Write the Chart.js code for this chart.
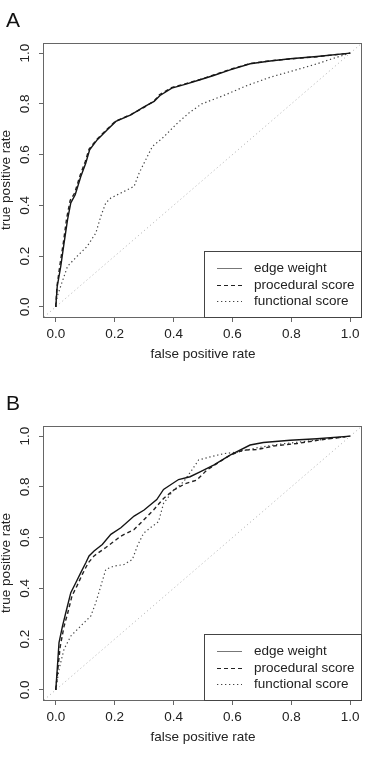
<!DOCTYPE html>
<html>
<head>
<meta charset="utf-8">
<script src="https://cdn.jsdelivr.net/npm/chart.js@4.4.1/dist/chart.umd.min.js"></script>
<style>
  html, body { margin: 0; padding: 0; background: #fff; }
  .panel { position: relative; width: 384px; height: 383px; }
  .panel canvas { display: block; }
  .tag { position: absolute; left: 6px; top: 9px; font: 21px/1 "Liberation Sans", Arial, sans-serif; color: #111; }
</style>
</head>
<body>
<div class="panel"><canvas id="roc-a" width="384" height="383"></canvas><div class="tag">A</div></div>
<div class="panel"><canvas id="roc-b" width="384" height="383"></canvas><div class="tag">B</div></div>
<script>
// series labels + axis ticks
const seriesLabels = ['edge weight', 'procedural score', 'functional score'];
const tickValues = [0, 0.2, 0.4, 0.6, 0.8, 1.0];
const diagX = [-0.04, 1.04];
const diagY = [-0.04, 1.04];

// panel A
const aEdgeFpr = [0, .005, .017, .028, .04, .051, .066, .085, .102, .115, .141, .175, .204, .255, .298, .334, .354, .394, .445, .49, .536, .592, .66, .728, .796, .887, 1];
const aEdgeTpr = [0, .081, .16, .25, .344, .41, .442, .514, .567, .619, .659, .698, .731, .757, .787, .81, .833, .862, .879, .895, .912, .934, .958, .969, .978, .987, 1];
const aProcFpr = [0, .004, .014, .026, .037, .049, .064, .083, .1, .113, .14, .174, .203, .255, .3, .334, .352, .393, .445, .49, .536, .592, .66, .728, .796, .887, 1];
const aProcTpr = [0, .08, .165, .255, .35, .42, .448, .52, .572, .622, .661, .7, .732, .758, .786, .812, .836, .864, .881, .896, .914, .936, .959, .97, .977, .986, 1];
const aFuncFpr = [0, .005, .04, .073, .107, .136, .153, .17, .187, .232, .266, .283, .30, .328, .366, .411, .456, .496, .57, .649, .728, .807, .887, .955, 1];
const aFuncTpr = [0, .042, .16, .2, .239, .291, .357, .41, .429, .455, .475, .527, .567, .632, .669, .722, .768, .80, .833, .872, .905, .931, .958, .984, 1];

// panel B
const bEdgeFpr = [0, .005, .011, .023, .034, .051, .068, .085, .102, .113, .13, .158, .187, .221, .266, .30, .343, .366, .417, .456, .49, .536, .592, .66, .705, .796, .887, 1];
const bEdgeTpr = [0, .081, .186, .252, .304, .383, .422, .462, .501, .528, .547, .573, .613, .639, .685, .709, .75, .79, .829, .84, .859, .886, .925, .965, .975, .984, .99, 1];
const bProcFpr = [0, .006, .015, .028, .04, .055, .072, .09, .11, .13, .17, .221, .266, .298, .332, .366, .40, .44, .479, .513, .547, .592, .637, .683, .739, .819, .909, 1];
const bProcTpr = [0, .07, .17, .25, .30, .37, .41, .455, .50, .528, .561, .606, .632, .669, .709, .754, .787, .813, .827, .866, .892, .925, .945, .947, .961, .971, .987, 1];
const bFuncFpr = [0, .011, .028, .051, .085, .119, .136, .153, .17, .198, .232, .26, .277, .298, .326, .349, .366, .40, .434, .462, .485, .524, .57, .615, .683, .751, .819, .909, 1];
const bFuncTpr = [0, .081, .16, .212, .252, .291, .344, .409, .475, .488, .494, .514, .567, .617, .643, .663, .735, .787, .82, .866, .906, .918, .931, .937, .954, .967, .976, .987, 1];

const FAMILY = '"Liberation Sans", Arial, Helvetica, sans-serif';
const FONT = { family: FAMILY, size: 13.5 };
const TITLE_FONT = { family: FAMILY, size: 13.5, lineHeight: 1 };

const lineStyles = [
  { color: '#151515', width: 1.4, dash: [] },
  { color: '#222222', width: 1.4, dash: [4, 3] },
  { color: '#444444', width: 1.2, dash: [1.3, 2.7] }
];

function toPoints(xs, ys) {
  return xs.map((x, i) => ({ x: x, y: ys[i] }));
}

// R style box around the plot region + legend in the bottom right corner
const boxLegendPlugin = {
  id: 'boxLegend',
  afterDraw(chart) {
    const ctx = chart.ctx;
    const a = chart.chartArea;
    ctx.save();
    ctx.strokeStyle = '#666';
    ctx.lineWidth = 1;
    ctx.setLineDash([]);
    ctx.strokeRect(Math.round(a.left) - 0.5, Math.round(a.top) + 0.5,
      Math.round(a.right - a.left), Math.round(a.bottom - a.top));

    // legend
    const x0 = Math.round(a.right) - 158;
    const y0 = Math.round(a.bottom) - 66;
    ctx.fillStyle = '#fff';
    ctx.fillRect(x0, y0, 158, 66);
    ctx.strokeStyle = '#444';
    ctx.strokeRect(x0 + 0.5, y0 + 0.5, 157, 66);
    const rows = [17, 34, 50];
    ctx.font = '13.5px ' + FAMILY;
    ctx.textBaseline = 'middle';
    chart.data.datasets.slice(0, 3).forEach((ds, i) => {
      const y = y0 + rows[i] + 0.5;
      ctx.beginPath();
      ctx.strokeStyle = i === 0 ? '#777' : ds.borderColor;
      ctx.lineWidth = 1;
      ctx.setLineDash(ds.borderDash);
      ctx.moveTo(x0 + 13, y);
      ctx.lineTo(x0 + 38, y);
      ctx.stroke();
      ctx.setLineDash([]);
      ctx.fillStyle = '#222';
      ctx.fillText(ds.label, x0 + 50, y);
    });
    ctx.restore();
  }
};

function createRocChart(canvasId, series) {
  const canvas = document.getElementById(canvasId);
  if (!canvas || typeof Chart === 'undefined') return;

  const datasets = series.map((s, i) => ({
    label: seriesLabels[i],
    data: toPoints(s[0], s[1]),
    borderColor: lineStyles[i].color,
    borderWidth: lineStyles[i].width,
    borderDash: lineStyles[i].dash,
    showLine: true,
    fill: false,
    pointRadius: 0,
    tension: 0
  }));
  // diagonal reference line
  datasets.push({
    label: '',
    data: toPoints(diagX, diagY),
    borderColor: '#bdbdbd',
    borderWidth: 1,
    borderDash: [1.3, 2.7],
    showLine: true,
    pointRadius: 0
  });

  new Chart(canvas.getContext('2d'), {
    type: 'scatter',
    data: { datasets: datasets },
    options: {
      responsive: false,
      animation: false,
      events: [],
      layout: { padding: { top: 43, right: 22, bottom: 0, left: 0 } },
      plugins: { legend: { display: false }, tooltip: { enabled: false } },
      scales: {
        x: {
          type: 'linear',
          min: -0.04,
          max: 1.04,
          afterBuildTicks: s => { s.ticks = tickValues.map(v => ({ value: v })); },
          afterFit: s => { s.height = 66; },
          border: { display: false },
          grid: { drawOnChartArea: false, color: '#666', tickLength: 5 },
          ticks: { color: '#222', font: FONT, padding: 4, maxRotation: 0, autoSkip: false,
            callback: v => v.toFixed(1) },
          title: { display: true, text: 'false positive rate', color: '#222', font: TITLE_FONT,
            padding: { top: 0, bottom: 22 } }
        },
        y: {
          type: 'linear',
          min: -0.04,
          max: 1.04,
          afterBuildTicks: s => { s.ticks = tickValues.map(v => ({ value: v })); },
          afterFit: s => { s.width = 44; },
          border: { display: false },
          grid: { drawOnChartArea: false, color: '#666', tickLength: 5 },
          ticks: { color: '#222', font: FONT, padding: 4, minRotation: 90, maxRotation: 90,
            crossAlign: 'center', autoSkip: false, callback: v => v.toFixed(1) },
          title: { display: true, text: 'true positive rate', color: '#222', font: TITLE_FONT,
            padding: { top: 0, bottom: 0 } }
        }
      }
    },
    plugins: [boxLegendPlugin]
  });
}

createRocChart('roc-a', [[aEdgeFpr, aEdgeTpr], [aProcFpr, aProcTpr], [aFuncFpr, aFuncTpr]]);
createRocChart('roc-b', [[bEdgeFpr, bEdgeTpr], [bProcFpr, bProcTpr], [bFuncFpr, bFuncTpr]]);
</script>
</body>
</html>
